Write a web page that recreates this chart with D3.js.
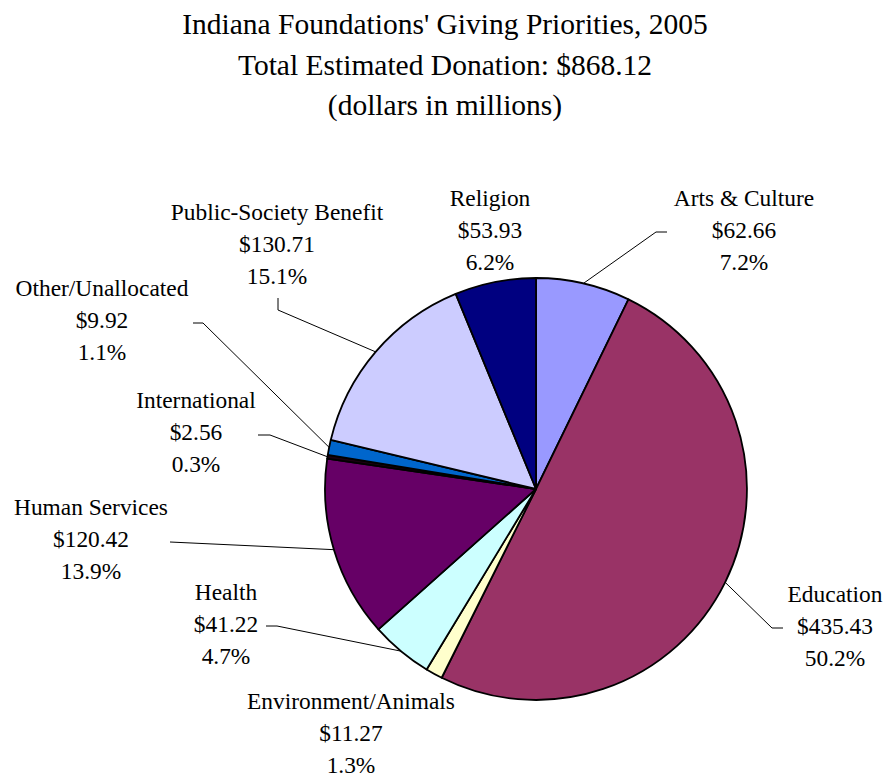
<!DOCTYPE html>
<html>
<head>
<meta charset="utf-8">
<script src="https://cdn.jsdelivr.net/npm/d3@7"></script>
</head>
<body style="margin:0; background:#fff">
<div id="chart"></div>
<script>
// chart data
var categories = ["Arts & Culture", "Education", "Environment/Animals", "Health",
  "Human Services", "International", "Other/Unallocated", "Public-Society Benefit", "Religion"];
var amounts = [62.66, 435.43, 11.27, 41.22, 120.42, 2.56, 9.92, 130.71, 53.93];
var colors = ["#9999FF", "#993366", "#FFFFCC", "#CCFFFF", "#660066", "#1a0010", "#0066CC", "#CCCCFF", "#000080"];
var titleLines = ["Indiana Foundations' Giving Priorities, 2005",
  "Total Estimated Donation: $868.12", "(dollars in millions)"];

// label layout: text centre x, first baseline y, leader elbow and end (null = no leader)
var labelLayout = [
  { x: 744, y: 206, elbow: [656, 232], end: [667, 232] },
  { x: 835, y: 602, elbow: [772, 628], end: [783, 628] },
  { x: 351, y: 709, elbow: null, end: null },
  { x: 226, y: 600, elbow: [277, 626], end: [266, 626] },
  { x: 91, y: 515, elbow: [170, 542], end: [170, 542] },
  { x: 196, y: 408, elbow: [270, 435], end: [258, 435] },
  { x: 102, y: 296, elbow: [203, 323], end: [193, 323] },
  { x: 277, y: 220, elbow: [278, 310], end: [278, 298] },
  { x: 490, y: 206, elbow: null, end: null }
];

var width = 885, height = 777;
var cx = 536, cy = 489, radius = 211;
var serif = "Liberation Serif";

var svg = d3.select("#chart")
  .append("svg")
    .attr("width", width)
    .attr("height", height);

// title
svg.selectAll("text.title")
  .data(titleLines)
  .enter()
  .append("text")
  .attr("class", "title")
  .attr("x", 445)
  .attr("y", function(d, i) { return 34 + i * 40.5; })
  .attr("text-anchor", "middle")
  .attr("font-family", serif)
  .attr("font-size", 29.5)
  .text(function(d) { return d; });

var total = d3.sum(amounts);
var data = categories.map(function(c, i) { return { name: c, value: amounts[i], color: colors[i], layout: labelLayout[i] }; });

var pie = d3.pie().sort(null).value(function(d) { return d.value; });
var arc = d3.arc().innerRadius(0).outerRadius(radius);
var arcs = pie(data);

var g = svg.append("g").attr("transform", "translate(" + cx + "," + cy + ")");

g.selectAll("path")
  .data(arcs)
  .enter()
  .append("path")
  .attr("d", arc)
  .attr("fill", function(d) { return d.data.color; })
  .attr("stroke", "#000")
  .attr("stroke-width", 1.8)
  .attr("stroke-linejoin", "round");

// leader lines: start on the rim at the slice's middle angle
var leaders = arcs.filter(function(d) { return d.data.layout.elbow; });
svg.selectAll("polyline.leader")
  .data(leaders)
  .enter()
  .append("polyline")
  .attr("class", "leader")
  .attr("fill", "none")
  .attr("stroke", "#000")
  .attr("stroke-width", 1)
  .attr("points", function(d) {
    var a = (d.startAngle + d.endAngle) / 2;
    var p = [cx + radius * Math.sin(a), cy - radius * Math.cos(a)];
    return [p, d.data.layout.elbow, d.data.layout.end].map(function(q) { return q.join(","); }).join(" ");
  });

// labels
var fmtPct = d3.format(".1%");
var labels = svg.selectAll("text.label")
  .data(arcs)
  .enter()
  .append("text")
  .attr("class", "label")
  .attr("text-anchor", "middle")
  .attr("font-family", serif)
  .attr("font-size", 23.4);

labels.each(function(d) {
  var t = d3.select(this);
  var lines = [d.data.name, "$" + d.data.value.toFixed(2), fmtPct(d.data.value / total)];
  lines.forEach(function(s, i) {
    t.append("tspan")
      .attr("x", d.data.layout.x)
      .attr("y", d.data.layout.y + i * 32)
      .text(s);
  });
});
</script>
</body>
</html>
